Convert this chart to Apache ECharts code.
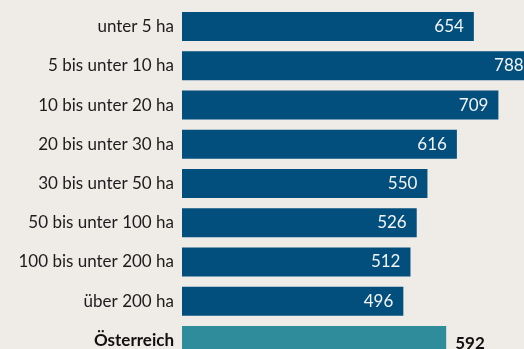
<!DOCTYPE html>
<html>
<head>
<meta charset="utf-8">
<script src="https://cdn.jsdelivr.net/npm/echarts@6/dist/echarts.min.js"></script>
<style>
  html, body { margin: 0; padding: 0; background: #efebe7; overflow: hidden; }
  /* the drawing area runs past the window on the right and bottom, so the
     longest bar and the last row are cut off by the page edge */
  #chart { width: 560px; height: 380px; }
</style>
</head>
<body>
<div id="chart"></div>
<script>
// Size classes of farms (hectares) and the national total
const sizeClasses = [
  'unter 5 ha',
  '5 bis unter 10 ha',
  '10 bis unter 20 ha',
  '20 bis unter 30 ha',
  '30 bis unter 50 ha',
  '50 bis unter 100 ha',
  '100 bis unter 200 ha',
  'über 200 ha'
];
const classValues = [654, 788, 709, 616, 550, 526, 512, 496];
const totalLabel = 'Österreich';
const totalValue = 592;

const categories = sizeClasses.concat([totalLabel]);

const FONT = 'Lato, "Noto Sans", sans-serif';
const BLUE = '#024f7d';
const TEAL = '#2f8c9b';

const data = classValues.map(v => ({
  value: v,
  itemStyle: { color: BLUE },
  label: {
    position: 'insideRight',
    distance: 10,
    color: '#f2f4f6',
    fontSize: 17,
    fontFamily: FONT
  }
})).concat([{
  value: totalValue,
  itemStyle: { color: TEAL },
  label: {
    position: 'right',
    distance: 9,
    color: '#111111',
    fontSize: 17,
    fontWeight: 'bold',
    fontFamily: FONT,
    offset: [0, 3]
  }
}]);

const chart = echarts.init(document.getElementById('chart'), null, { renderer: 'canvas' });
chart.setOption({
  backgroundColor: '#efebe7',
  animation: false,
  grid: { left: 182, top: 7, width: 357, height: 353, containLabel: false },
  xAxis: {
    type: 'value',
    min: 0,
    max: 800,
    show: false
  },
  yAxis: {
    type: 'category',
    data: categories,
    inverse: true,
    axisLine: { show: false },
    axisTick: { show: false },
    axisLabel: {
      margin: 8,
      fontSize: 17,
      fontFamily: FONT,
      color: '#1c1c1c',
      formatter: v => (v === totalLabel ? '{b|' + v + '}' : v),
      rich: {
        b: { fontWeight: 'bold', fontSize: 17, fontFamily: FONT, color: '#111111' }
      }
    }
  },
  series: [{
    type: 'bar',
    data: data,
    barWidth: 29,
    label: { show: true }
  }]
});
</script>
</body>
</html>
